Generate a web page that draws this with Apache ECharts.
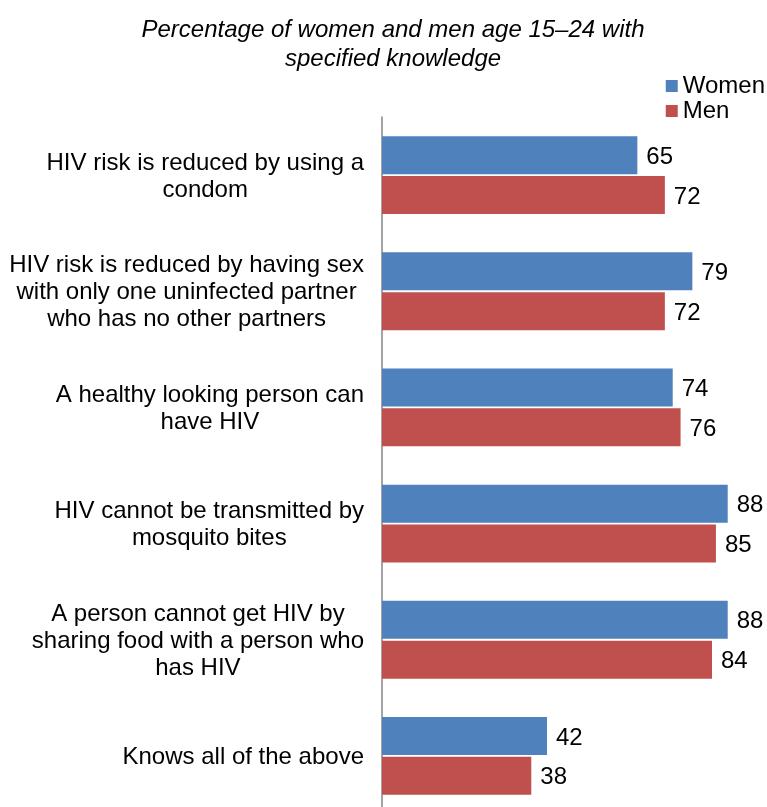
<!DOCTYPE html>
<html>
<head>
<meta charset="utf-8">
<script src="https://cdn.jsdelivr.net/npm/echarts@6/dist/echarts.min.js"></script>
<style>html,body{margin:0;padding:0;background:#fff;}#c{width:767px;height:807px;}</style>
</head>
<body>
<div id="c"></div>
<script>
var categories = [
  "HIV risk is reduced by using a\ncondom",
  "HIV risk is reduced by having sex\nwith only one uninfected partner\nwho has no other partners",
  "A healthy looking person can\nhave HIV",
  "HIV cannot be transmitted by\nmosquito bites",
  "A person cannot get HIV by\nsharing food with a person who\nhas HIV",
  "Knows all of the above"
];
var women = [65, 79, 74, 88, 88, 42];
var men = [72, 72, 76, 85, 84, 38];
var titleText = "Percentage of women and men age 15\u201324 with\nspecified knowledge";

var FONT = "'Liberation Sans', Arial, sans-serif";
var chart = echarts.init(document.getElementById('c'));
chart.setOption({
  animation: false,
  textStyle: {fontFamily: FONT},
  title: {
    text: titleText,
    left: 388, textAlign: 'center', top: 11,
    textStyle: {fontFamily: FONT, fontStyle: 'italic', fontWeight: 'normal', fontSize: 24, lineHeight: 29, color: '#000'}
  },
  legend: {
    orient: 'vertical', right: 2, top: 74, padding: 0,
    itemWidth: 12, itemHeight: 12, itemGap: 1,
    icon: 'rect',
    textStyle: {fontFamily: FONT, fontSize: 24, color: '#000'},
    data: ['Women', 'Men']
  },
  grid: {left: 382, right: 0, top: 117, height: 697, containLabel: false, outerBoundsMode: 'none'},
  xAxis: {type: 'value', min: 0, max: 98, show: false},
  yAxis: {
    type: 'category', inverse: true, data: categories,
    axisLine: {show: true, lineStyle: {color: '#868686', width: 1.5}},
    axisTick: {show: false},
    axisLabel: {
      margin: 18, align: 'right',
      formatter: function (v) { return v.split('\n').map(function (l) { return '{c|' + l + '}'; }).join('\n'); },
      rich: {c: {align: 'center', fontFamily: FONT, fontSize: 24, lineHeight: 27, color: '#000', padding: [3, 0, 0, 0]}}
    }
  },
  series: [
    {name: 'Women', type: 'bar', data: women, barWidth: 38, barGap: '5%',
     itemStyle: {color: '#4F81BD'},
     label: {show: true, position: 'right', distance: 9, offset: [0, 2], fontFamily: FONT, fontSize: 24, color: '#000'}},
    {name: 'Men', type: 'bar', data: men, barWidth: 38, barGap: '5%',
     itemStyle: {color: '#C0504D'},
     label: {show: true, position: 'right', distance: 9, offset: [0, 2], fontFamily: FONT, fontSize: 24, color: '#000'}}
  ]
});
</script>
</body>
</html>
